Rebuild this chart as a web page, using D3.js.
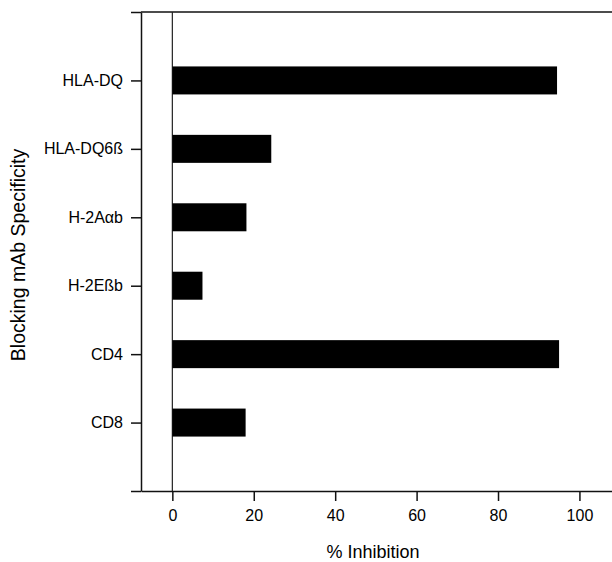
<!DOCTYPE html>
<html>
<head>
<meta charset="utf-8">
<script src="https://cdn.jsdelivr.net/npm/d3@7"></script>
<style>
  body { margin: 0; background: #fff; }
  svg text { font-family: "Liberation Sans", Arial, sans-serif; fill: #000; }
</style>
</head>
<body>
<div id="chart"></div>
<script>
const categories = ["HLA-DQ", "HLA-DQ6ß", "H-2Aαb", "H-2Eßb", "CD4", "CD8"]
const inhibition = [94.5, 24.3, 18.2, 7.4, 95, 18]
const xTicks = [0, 20, 40, 60, 80, 100]

const width = 612, height = 562
const plotLeft = 141, plotRight = 612, plotTop = 12, plotBottom = 491

const svg = d3.select('#chart')
    .append('svg')
    .attr('width', width)
    .attr('height', height)

const x = d3.scaleLinear().domain([-7.7, 108]).range([plotLeft, plotRight])
// one slot per category, plus an empty slot top and bottom
const y = d3.scaleLinear().domain([0, categories.length + 1]).range([plotTop, plotBottom])
const barH = 28

// top frame line
svg.append('line')
    .attr('x1', plotLeft).attr('x2', plotRight)
    .attr('y1', plotTop).attr('y2', plotTop)
    .attr('stroke', '#111').attr('stroke-width', 1.5)

// zero line
svg.append('line')
    .attr('x1', x(0)).attr('x2', x(0))
    .attr('y1', plotTop).attr('y2', plotBottom)
    .attr('stroke', '#222').attr('stroke-width', 1.2)

svg.selectAll('rect.bar')
    .data(inhibition)
    .enter().append('rect')
    .attr('class', 'bar')
    .attr('x', x(0))
    .attr('y', (d, i) => y(i + 1) - barH / 2)
    .attr('width', d => x(d) - x(0))
    .attr('height', barH)
    .attr('fill', '#000')

const xAxis = svg.append('g')
    .attr('transform', `translate(0,${plotBottom})`)
    .call(d3.axisBottom(x).tickValues(xTicks).tickSize(10).tickSizeOuter(0).tickPadding(9))
xAxis.selectAll('text').style('font-size', '16px')

const yAxis = svg.append('g')
    .attr('transform', `translate(${plotLeft},0)`)
    .call(d3.axisLeft(y)
        .tickValues(d3.range(0, categories.length + 2))
        .tickFormat(i => categories[i - 1] || '')
        .tickSize(10).tickSizeOuter(0).tickPadding(8))
yAxis.selectAll('text').style('font-size', '16px')

svg.selectAll('.domain, .tick line').attr('stroke', '#111').attr('stroke-width', 1.5)

svg.append('text')
    .attr('x', 373)
    .attr('y', 558)
    .attr('text-anchor', 'middle')
    .style('font-size', '18px')
    .text('% Inhibition')

svg.append('text')
    .attr('transform', 'translate(25,255) rotate(-90)')
    .attr('text-anchor', 'middle')
    .style('font-size', '19.5px')
    .text('Blocking mAb Specificity')
</script>
</body>
</html>
